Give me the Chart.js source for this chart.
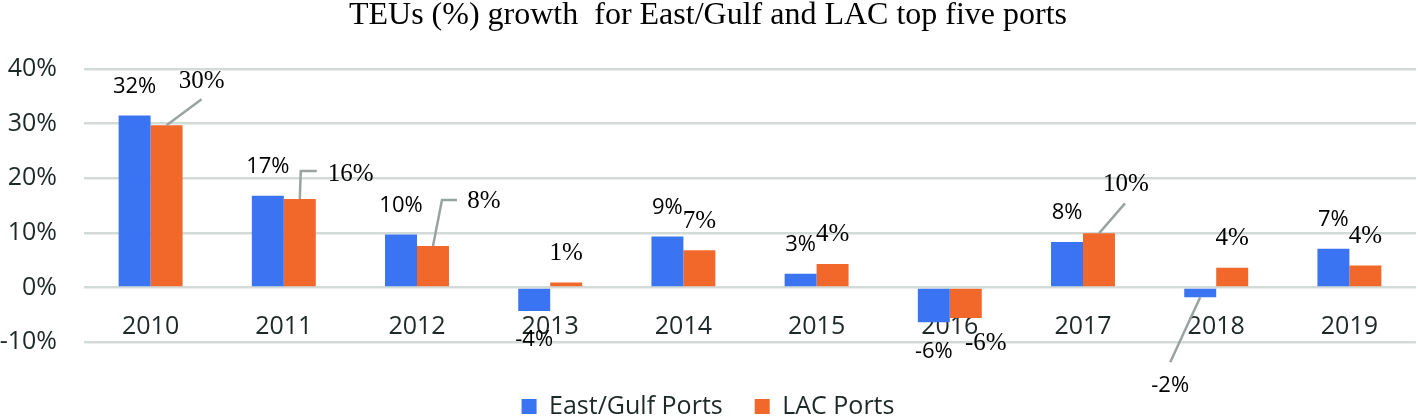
<!DOCTYPE html>
<html>
<head>
<meta charset="utf-8">
<script src="https://cdn.jsdelivr.net/npm/chart.js@4"></script>
<style>
  html, body { margin: 0; padding: 0; background: #fff; }
  #wrap { width: 1418px; height: 417px; }
</style>
</head>
<body>
<div id="wrap"><canvas id="teu-chart" width="1418" height="417"></canvas></div>
<script>
// values (percent)
const years = ['2010', '2011', '2012', '2013', '2014', '2015', '2016', '2017', '2018', '2019'];
const eastGulf = [31.5, 16.8, 9.7, -4.3, 9.3, 2.5, -6.4, 8.3, -1.8, 7.1];
const lacPorts = [29.7, 16.2, 7.6, 0.9, 6.8, 4.3, -5.6, 9.9, 3.6, 4.0];
const yMin = -10;
const yMax = 40;
const yStep = 10;

const BLUE = '#3b74f2';
const ORANGE = '#f2672a';
const TEXT = '#1f2828';
const SANS = "'Open Sans', 'Noto Sans', sans-serif";
const SERIF = "'Liberation Serif', 'DejaVu Serif', serif";

// labels that were moved by hand in the original, with leader lines
// offsets are relative to the default label spot; leader points relative to label centre
const movedLabels = {
    '1-0': { dx: 35, dy: -15, leader: [[0, 18]] },
    '1-1': { dx: 51, dy: 4, leader: [[-50, -3], [-34, -3]] },
    '1-2': { dx: 51, dy: -15, leader: [[-42, -2], [-27, -2]] },
    '1-6': { dx: 20, dy: -4 },
    '1-7': { dx: 27, dy: -20, leader: [[-1, 19]] },
    '0-8': { dx: -30, dy: 60, leader: [[0, -24]] }
};

const valueLabels = {
    id: 'valueLabels',
    afterDatasetsDraw(chart) {
        const ctx = chart.ctx;
        chart.data.datasets.forEach((ds, i) => {
            const meta = chart.getDatasetMeta(i);
            meta.data.forEach((bar, j) => {
                const v = ds.data[j];
                const dir = v >= 0 ? -1 : 1;
                let x = bar.x;
                let y = bar.y + dir * 29;
                const m = movedLabels[i + '-' + j];
                if (m) {
                    x += m.dx;
                    y += m.dy;
                    if (m.leader) {
                        ctx.save();
                        ctx.strokeStyle = '#9ba3a1';
                        ctx.lineWidth = 2.5;
                        ctx.beginPath();
                        ctx.moveTo(bar.x, bar.y);
                        m.leader.forEach(p => ctx.lineTo(x + p[0], y + p[1]));
                        ctx.stroke();
                        ctx.restore();
                    }
                }
                ctx.save();
                ctx.fillStyle = '#000';
                ctx.textAlign = 'center';
                ctx.textBaseline = 'middle';
                ctx.font = i === 0 ? '22px ' + SANS : '25px ' + SERIF;
                ctx.fillText(Math.round(v) + '%', x, y);
                ctx.restore();
            });
        });
    }
};

const ctx = document.getElementById('teu-chart').getContext('2d');
const teuChart = new Chart(ctx, {
    type: 'bar',
    data: {
        labels: years,
        datasets: [{
            label: 'East/Gulf Ports',
            data: eastGulf,
            backgroundColor: BLUE
        }, {
            label: 'LAC Ports',
            data: lacPorts,
            backgroundColor: ORANGE
        }]
    },
    options: {
        responsive: false,
        animation: false,
        categoryPercentage: 0.48,
        barPercentage: 1,
        layout: { padding: { left: 0, right: 2, top: 0, bottom: -12 } },
        scales: {
            x: {
                position: { y: 0 },
                z: 1,
                grid: { display: false, drawTicks: false },
                border: { display: false },
                ticks: {
                    color: TEXT,
                    font: { family: SANS, size: 25 },
                    padding: 24,
                    autoSkip: false,
                    maxRotation: 0
                }
            },
            y: {
                min: yMin,
                max: yMax,
                grid: { color: '#d3dbd8', lineWidth: 2.5, drawTicks: false },
                border: { display: false },
                ticks: {
                    stepSize: yStep,
                    color: TEXT,
                    font: { family: SANS, size: 25 },
                    padding: 27,
                    callback: (v) => v + '%'
                },
                afterFit(scale) { scale.width = 84; }
            }
        },
        plugins: {
            title: {
                display: true,
                text: 'TEUs (%) growth  for East/Gulf and LAC top five ports',
                color: '#000',
                font: { family: SERIF, size: 32, weight: 'normal' },
                padding: { top: -4, bottom: 34.6 }
            },
            legend: {
                position: 'bottom',
                title: {
                    display: true,
                    text: '',
                    font: { size: 10 },
                    padding: { top: 8, bottom: 0 }
                },
                labels: {
                    boxWidth: 15,
                    boxHeight: 15,
                    padding: 32,
                    color: TEXT,
                    font: { family: SANS, size: 25 }
                }
            },
            tooltip: { enabled: false }
        }
    },
    plugins: [valueLabels]
});
</script>
</body>
</html>
